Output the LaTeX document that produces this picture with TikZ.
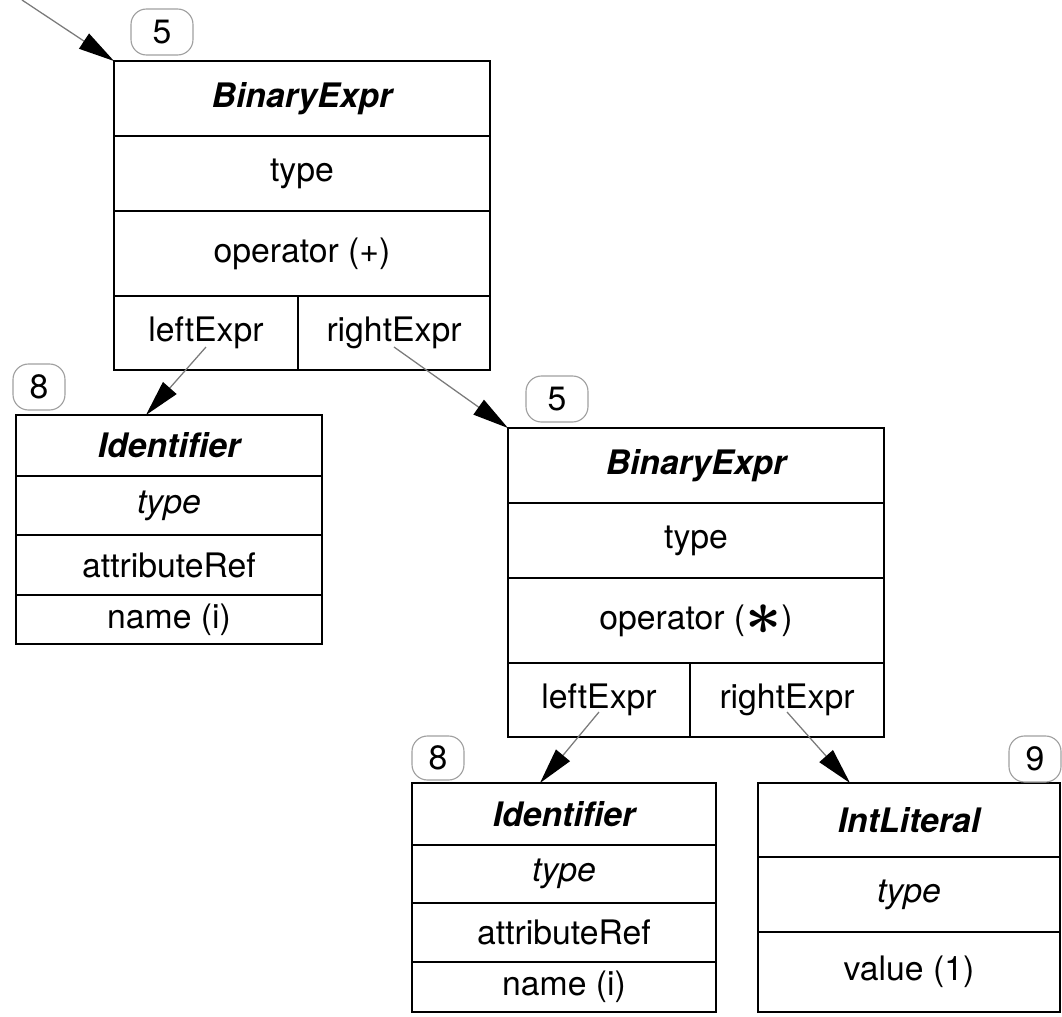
\documentclass[tikz,border=0pt]{standalone}
\usepackage{fontspec}
\setmainfont{TeX Gyre Heros}
\usepackage{graphicx}
\usepackage{tikz}
\usetikzlibrary{
  arrows.meta,
  positioning
}
\definecolor{astLine}{HTML}{000000}
\definecolor{astLink}{HTML}{7A7A7A}
\definecolor{astTag}{HTML}{A0A0A0}
\newcommand{\astfont}{\fontsize{24}{28}\selectfont}
\newcommand{\bigstar}{\raisebox{-0.17em}{\scalebox{1.8}{\boldmath$\ast$}}}
\tikzset{
  cell/.style 2 args={
    draw=astLine, line width=1.5pt, outer sep=0pt, inner sep=0pt,
    minimum width=#1, minimum height=#2, font=\astfont
  },
  head/.style={font=\astfont\bfseries\itshape},
  slot/.style={font=\astfont\itshape},
  tag/.style={
    draw=astTag, rounded corners=11pt, line width=0.8pt, fill=white,
    minimum width=13mm, minimum height=11.5mm, inner sep=0pt, font=\astfont
  },
  link/.style={draw=astLink, line width=0.9pt,
    -{Triangle[length=9mm, width=4.5mm, black]}}
}

\begin{document}
\begin{tikzpicture}
  \useasboundingbox (0,0) rectangle (26.55,-25.425);

  % outer binary expression
  \node[cell={9.4cm}{1.875cm}, head, anchor=north west] (bin1) at (2.85,-1.525) {BinaryExpr};
  \node[cell={9.4cm}{1.875cm}, below=0pt of bin1] (bin1type) {type};
  \node[cell={9.4cm}{2.125cm}, below=0pt of bin1type] (bin1op) {operator (+)};
  \node[cell={4.6cm}{1.85cm}, anchor=north west] (bin1left) at (bin1op.south west) {leftExpr};
  \node[cell={4.8cm}{1.85cm}, right=0pt of bin1left] (bin1right) {rightExpr};

  % left identifier
  \node[cell={7.65cm}{1.525cm}, head, anchor=north west] (id1) at (0.4,-10.375) {Identifier};
  \node[cell={7.65cm}{1.475cm}, slot, below=0pt of id1] (id1type) {type};
  \node[cell={7.65cm}{1.5cm}, below=0pt of id1type] (id1ref) {attributeRef};
  \node[cell={7.65cm}{1.225cm}, below=0pt of id1ref] (id1name) {name (i)};

  % inner binary expression
  \node[cell={9.4cm}{1.875cm}, head, anchor=north west] (bin2) at (12.7,-10.7) {BinaryExpr};
  \node[cell={9.4cm}{1.875cm}, below=0pt of bin2] (bin2type) {type};
  \node[cell={9.4cm}{2.125cm}, below=0pt of bin2type] (bin2op) {operator (\bigstar)};
  \node[cell={4.55cm}{1.85cm}, anchor=north west] (bin2left) at (bin2op.south west) {leftExpr};
  \node[cell={4.85cm}{1.85cm}, right=0pt of bin2left] (bin2right) {rightExpr};

  % lower identifier
  \node[cell={7.6cm}{1.55cm}, head, anchor=north west] (id2) at (10.3,-19.575) {Identifier};
  \node[cell={7.6cm}{1.45cm}, slot, below=0pt of id2] (id2type) {type};
  \node[cell={7.6cm}{1.475cm}, below=0pt of id2type] (id2ref) {attributeRef};
  \node[cell={7.6cm}{1.25cm}, below=0pt of id2ref] (id2name) {name (i)};

  % literal
  \node[cell={7.55cm}{1.85cm}, head, anchor=north west] (lit) at (18.95,-19.575) {IntLiteral};
  \node[cell={7.55cm}{1.875cm}, slot, below=0pt of lit] (littype) {type};
  \node[cell={7.55cm}{2cm}, below=0pt of littype] (litval) {value (1)};

  % numbers
  \node[tag, minimum width=15.5mm] (num1) at (4.05,-0.8) {5};
  \node[tag] (num2) at (0.975,-9.675) {8};
  \node[tag, minimum width=15.5mm] (num3) at (13.925,-9.975) {5};
  \node[tag, minimum height=11mm] (num4) at (10.95,-18.95) {8};
  \node[tag] (num5) at (25.875,-18.975) {9};

  % references
  \coordinate (entry) at (0.55,0);
  \draw[link] (entry) -- (bin1.north west);
  \draw[link] ([yshift=-3.5mm]bin1left.center) -- ([xshift=-5.75mm]id1.north);
  \draw[link] ([yshift=-3.5mm]bin1right.center) -- (bin2.north west);
  \draw[link] ([yshift=-3mm]bin2left.center) -- ([xshift=-6mm]id2.north);
  \draw[link] ([yshift=-3mm]bin2right.center) -- ([xshift=-14.75mm]lit.north);
\end{tikzpicture}
\end{document}
